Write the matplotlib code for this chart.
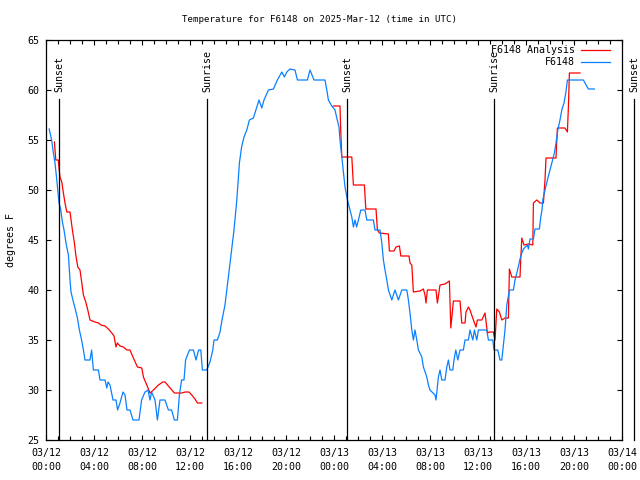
import datetime as dt
import matplotlib
matplotlib.use("Agg")
import matplotlib.pyplot as plt
import matplotlib.dates as mdates

# ---- data (minutes after 2025-03-12 00:00 UTC, degrees F) ----
obs_min = [16, 28, 37, 45, 54, 65, 74, 82, 90, 100, 112, 120, 125, 137, 145, 157, 167, 178, 187, 195,
           220, 228, 237, 262, 270, 295, 304, 310, 320, 335, 350, 358, 370, 385, 395, 405, 420, 435, 465, 478,
           495, 510, 520, 528, 545, 557, 570, 595, 612, 628, 642, 657, 667, 678, 690, 698, 717, 737, 750, 763,
           774, 782, 804, 820, 834, 840, 857, 870, 880, 895, 910, 925, 940, 954, 967, 978, 990, 1004, 1017, 1037,
           1054, 1065, 1079, 1090, 1112, 1137, 1157, 1179, 1192, 1204, 1220, 1245, 1257, 1307, 1320, 1340, 1395, 1404, 1412, 1429,
           1445, 1454, 1465, 1470, 1479, 1487, 1495, 1507, 1520, 1529, 1537, 1545, 1553, 1562, 1574, 1595, 1604, 1637, 1645, 1670,
           1679, 1687, 1695, 1704, 1712, 1729, 1745, 1762, 1779, 1804, 1812, 1820, 1829, 1837, 1845, 1854, 1862, 1879, 1887, 1904,
           1912, 1920, 1945, 1950, 1962, 1970, 1979, 1995, 2004, 2012, 2020, 2034, 2040, 2049, 2059, 2070, 2087, 2095, 2112, 2120,
           2134, 2142, 2154, 2162, 2204, 2212, 2234, 2240, 2259, 2270, 2279, 2287, 2295, 2304, 2317, 2337, 2345, 2359, 2370, 2379,
           2387, 2407, 2412, 2420, 2437, 2445, 2467, 2474, 2480, 2484, 2495, 2507, 2520, 2529, 2542, 2550, 2559, 2570, 2579, 2590,
           2599, 2607, 2620, 2687, 2695, 2712, 2742]
obs_val = [56.1, 55, 53.7, 52.7, 51, 48.7, 48, 46.8, 46, 44.7, 43.5, 41, 39.8, 38.8, 38.2, 37.2, 36, 35, 34, 33,
           33, 34, 32, 32, 31, 31, 30.2, 30.8, 30.5, 29, 29, 28, 28.7, 29.8, 29.5, 28, 28, 27, 27, 29,
           29.8, 30, 29, 29.8, 29, 27, 29, 29, 28, 28, 27, 27, 29.5, 31, 31, 33, 34, 34, 33, 34,
           34, 32, 32, 32.8, 34, 35, 35, 35.8, 37, 38.5, 41, 43.5, 46, 49, 52.7, 54.3, 55.3, 56, 57, 57.2,
           58.3, 59, 58.2, 59, 60, 60.1, 61, 61.8, 61.3, 61.8, 62.1, 62, 61, 61, 62, 61, 61, 60, 59, 58.4,
           58, 57.2, 56.3, 55, 53.3, 51.7, 50.3, 49, 48, 47.3, 46.3, 47, 46.3, 47, 48, 48, 47, 47, 46, 46,
           44.7, 43, 42, 41, 40, 39, 40, 39, 40, 40, 39, 37.7, 36, 35, 36, 35, 34, 33.3, 32.3, 31.3,
           30.5, 30, 29.5, 29, 31.3, 32, 31, 31, 32.3, 33, 32, 32, 33, 34, 33, 34, 34, 35, 35, 36,
           35, 36, 35, 36, 36, 35, 35, 34, 34, 33, 33, 34.5, 36, 38.5, 40, 40, 41, 42.1, 43.1, 43.7,
           44.1, 44.5, 44.1, 45.1, 45.1, 46.1, 46.1, 47.3, 48, 49, 50, 51, 52, 52.7, 53.7, 54.7, 56, 57, 58, 58.7,
           59.7, 61, 61, 61, 60.7, 60.1, 60.1]

ana1_min = [42, 49, 62, 65, 70, 79, 87, 95, 104, 120, 132, 142, 149, 159, 170, 179, 187, 199, 209, 220,
            245, 262, 275, 295, 312, 329, 340, 350, 357, 370, 387, 404, 420, 437, 457, 479, 487, 504, 520, 537,
            562, 584, 595, 612, 629, 642, 679, 695, 715, 729, 745, 757, 779]
ana1_val = [54.8, 53, 53, 52.2, 51.3, 50.8, 49.7, 48.7, 47.8, 47.8, 46, 44.7, 43.5, 42.3, 42, 40.7, 39.5, 38.8, 38, 37,
            36.8, 36.7, 36.5, 36.4, 36.1, 35.7, 35.4, 34.3, 34.7, 34.4, 34.3, 34, 34, 33.2, 32.3, 32.2, 31.3, 30.5, 29.7, 30,
            30.5, 30.8, 30.8, 30.4, 30, 29.7, 29.7, 29.8, 29.8, 29.5, 29.1, 28.7, 28.7]

ana2_min = [1437, 1470, 1474, 1479, 1529, 1537, 1592, 1599, 1650, 1657, 1667, 1712, 1717, 1740, 1750, 1767, 1774, 1815, 1820, 1829,
            1837, 1870, 1887, 1895, 1900, 1907, 1950, 1957, 1970, 1995, 2017, 2024, 2037, 2070, 2079, 2095, 2100, 2112, 2120, 2137,
            2150, 2157, 2179, 2195, 2207, 2217, 2237, 2245, 2254, 2267, 2279, 2295, 2312, 2317, 2329, 2370, 2374, 2379, 2390, 2412,
            2434, 2437, 2454, 2470, 2487, 2495, 2500, 2550, 2557, 2595, 2607, 2612, 2617, 2670]
ana2_val = [58.4, 58.4, 55.7, 53.3, 53.3, 50.5, 50.5, 48.1, 48.1, 46, 45.7, 45.6, 43.9, 43.9, 44.3, 44.4, 43.4, 43.4, 42.7, 42.5,
            39.8, 39.9, 40.1, 39.5, 38.7, 40, 40, 38.7, 40.5, 40.6, 40.9, 36.2, 38.9, 38.9, 36.7, 36.7, 37.8, 38.3, 38, 37,
            36.3, 37, 37, 37.7, 35.7, 35.8, 35.8, 35, 38.1, 37.8, 37, 37.2, 37.2, 42.1, 41.3, 41.3, 43.2, 45.2, 44.5, 44.6,
            44.5, 48.7, 49, 48.7, 48.7, 51, 53.2, 53.2, 56.2, 56.2, 55.8, 58.3, 61.7, 61.7]

sun_min = [67, 807, 1505, 2240, 2940]
sun_lbl = ["Sunset", "Sunrise", "Sunset", "Sunrise", "Sunset"]

BASE = dt.datetime(2025, 3, 12)


def to_num(mins):
    return mdates.date2num([BASE + dt.timedelta(minutes=m) for m in mins])


MONO = "DejaVu Sans Mono"
plt.rcParams["font.family"] = MONO
FS = 7.2
RED = "#ff0000"
BLUE = "#0a80ff"

fig = plt.figure(figsize=(6.4, 4.8), dpi=100)
ax = fig.add_axes([46 / 640, 40 / 480, 576 / 640, 400 / 480])

ax.plot(to_num(ana1_min), ana1_val, color=RED, lw=0.9)
ax.plot(to_num(ana2_min), ana2_val, color=RED, lw=0.9)
ax.plot(to_num(obs_min), obs_val, color=BLUE, lw=0.9)

for m, lbl in zip(sun_min, sun_lbl):
    xn = to_num([m])[0]
    ax.plot([xn, xn], [25, 59.1], color="black", lw=0.9, clip_on=False)
    ax.text(xn, 59.8, lbl, rotation=90, ha="center", va="bottom", fontsize=FS, clip_on=False)

ax.set_xlim(to_num([0])[0], to_num([2880])[0])
ax.set_ylim(25, 65)
ax.set_yticks(range(25, 66, 5))
ax.xaxis.set_major_locator(mdates.HourLocator(byhour=range(0, 24, 4)))
ax.xaxis.set_minor_locator(mdates.HourLocator())
ax.xaxis.set_major_formatter(mdates.DateFormatter("%m/%d\n%H:%M"))
ax.tick_params(axis="both", which="major", direction="in", length=3.6, width=0.8,
               top=True, right=True, labelsize=FS)
ax.tick_params(axis="x", which="major", pad=5.5)
ax.tick_params(axis="y", which="major", pad=4.5)
ax.tick_params(axis="x", which="minor", direction="in", length=2.6, width=0.8, top=True)
for lab in ax.get_xticklabels():
    lab.set_linespacing(1.55)
for s in ax.spines.values():
    s.set_linewidth(0.9)

# legend (top right, text right-aligned before sample line)
def axc(px, py):
    return ((px - 46) / 576, (440 - py) / 400)

for (name, col, py) in [("F6148 Analysis", RED, 50), ("F6148", BLUE, 62)]:
    tx, ty = axc(575, py)
    ax.text(tx, ty, name, transform=ax.transAxes, ha="right", va="center", fontsize=FS)
    x0, y0 = axc(581, py)
    x1, _ = axc(610, py)
    ax.plot([x0, x1], [y0, y0], transform=ax.transAxes, color=col, lw=0.9)

fig.text(0.5, 1 - 20 / 480, "Temperature for F6148 on 2025-Mar-12 (time in UTC)",
         ha="center", va="center", fontsize=6.6)
fig.text(11 / 640, 0.5, "degrees F", rotation=90, ha="center", va="center", fontsize=FS)

fig.savefig("out.png", dpi=100)
